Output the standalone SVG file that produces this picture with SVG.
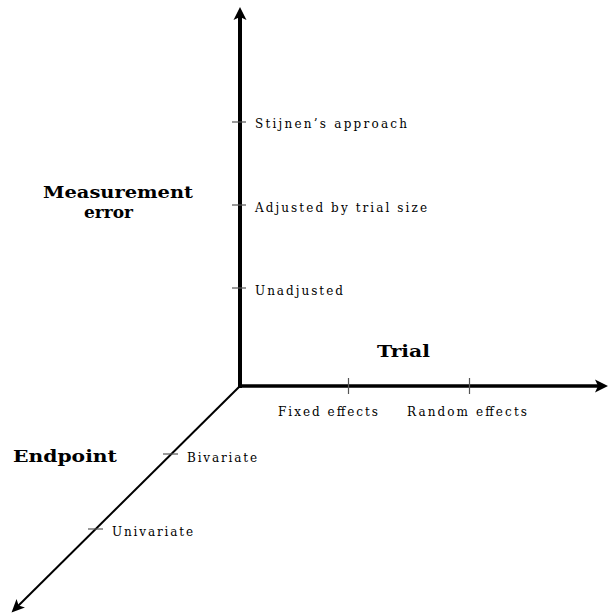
<svg xmlns="http://www.w3.org/2000/svg" width="608" height="613" viewBox="0 0 608 613">
<style>
  .ax { stroke: #000; fill: none; }
  .tick { stroke: #555; stroke-width: 1.2; }
  .lbl { font-family: "DejaVu Serif", "Liberation Serif", serif; font-size: 12px; fill: #000; }
  .ttl { font-family: "DejaVu Serif", "Liberation Serif", serif; font-size: 17px; font-weight: bold; fill: #000; }
</style>
<defs>
  <marker id="ahBig" markerUnits="userSpaceOnUse" markerWidth="16" markerHeight="16" viewBox="-1 -8 16 16" refX="6" refY="0" orient="auto">
    <path d="M0,-6.5 L13,0 L0,6.5 L3,0 Z" fill="#000"/>
  </marker>
  <marker id="ahSmall" markerUnits="userSpaceOnUse" markerWidth="16" markerHeight="16" viewBox="-1 -8 16 16" refX="6" refY="0" orient="auto">
    <path d="M0,-6 L13,0 L0,6 L3,0 Z" fill="#000"/>
  </marker>
</defs>
<g id="connectors">
  <line class="ax" x1="240" y1="388" x2="240" y2="14" stroke-width="4" marker-end="url(#ahBig)"/>
  <line class="ax" x1="238" y1="386" x2="601" y2="386" stroke-width="3.6" marker-end="url(#ahBig)"/>
  <line class="ax" x1="240" y1="386" x2="16.5" y2="607.5" stroke-width="2" marker-end="url(#ahSmall)"/>
</g>
<g id="ticks">
  <line class="tick" x1="232" y1="122" x2="246" y2="122"/>
  <line class="tick" x1="232" y1="205" x2="246" y2="205"/>
  <line class="tick" x1="232" y1="288" x2="246" y2="288"/>
  <line class="tick" x1="348.5" y1="378" x2="348.5" y2="394"/>
  <line class="tick" x1="469.5" y1="378" x2="469.5" y2="394"/>
  <line class="tick" x1="163" y1="454" x2="178" y2="454"/>
  <line class="tick" x1="88" y1="529" x2="103" y2="529"/>
</g>
<g id="axis-measurement">
  <text class="ttl" x="118" y="198" text-anchor="middle" textLength="150" lengthAdjust="spacingAndGlyphs">Measurement</text>
  <text class="ttl" x="108.5" y="218" text-anchor="middle">error</text>
  <text class="lbl" x="255" y="128" textLength="152" lengthAdjust="spacing">Stijnen’s approach</text>
  <text class="lbl" x="255" y="212" textLength="172" lengthAdjust="spacing">Adjusted by trial size</text>
  <text class="lbl" x="255" y="295" textLength="88" lengthAdjust="spacing">Unadjusted</text>
</g>
<g id="axis-trial">
  <text class="ttl" x="377" y="357" textLength="53" lengthAdjust="spacingAndGlyphs">Trial</text>
  <text class="lbl" x="278" y="416" textLength="100" lengthAdjust="spacing">Fixed effects</text>
  <text class="lbl" x="407" y="416" textLength="120" lengthAdjust="spacing">Random effects</text>
</g>
<g id="axis-endpoint">
  <text class="ttl" x="13" y="462" textLength="104" lengthAdjust="spacingAndGlyphs">Endpoint</text>
  <text class="lbl" x="187" y="462" textLength="70" lengthAdjust="spacing">Bivariate</text>
  <text class="lbl" x="112" y="536" textLength="81" lengthAdjust="spacing">Univariate</text>
</g>
</svg>
